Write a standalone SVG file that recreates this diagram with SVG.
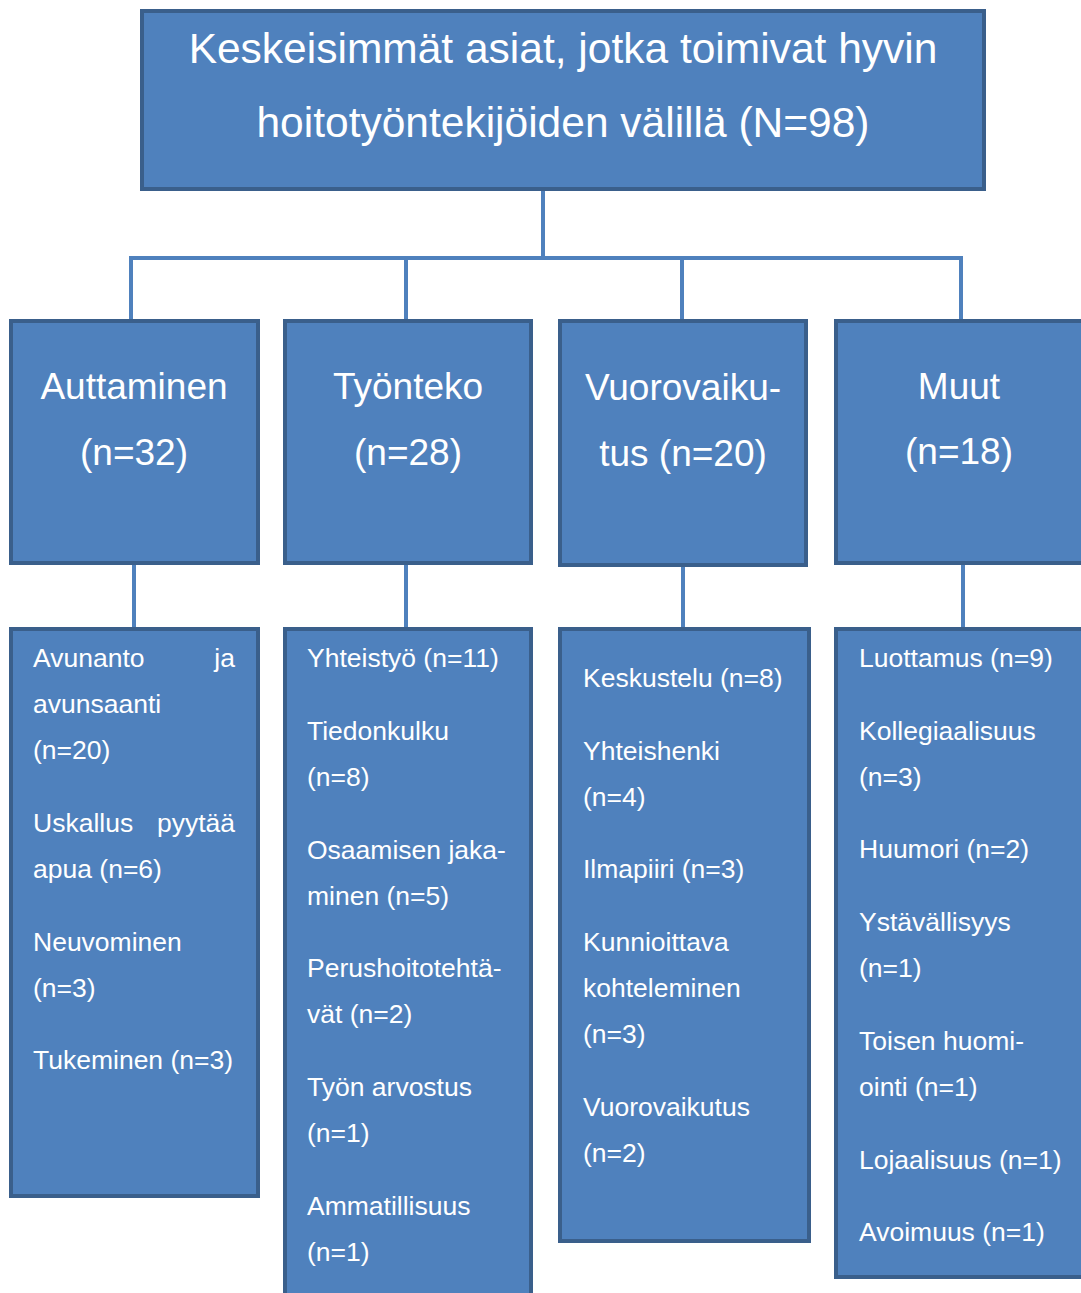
<svg xmlns="http://www.w3.org/2000/svg" width="1081" height="1293" viewBox="0 0 1081 1293">
<style>
.box{fill:#4f81bd;stroke:#3a5f8b;stroke-width:4}
.con{stroke:#4f81bd;stroke-width:4;fill:none}
text{font-family:"Liberation Sans",Arial,sans-serif;fill:#ffffff}
.t1{font-size:42.5px;text-anchor:middle}
.t2{font-size:37px;text-anchor:middle}
.t3{font-size:26.5px}
.end{text-anchor:end}
</style>
<rect width="1081" height="1293" fill="#ffffff"/>
<g id="connectors">
<path class="con" d="M543,190 V258 M131,258 H963 M131,256 V320 M406,256 V320 M682,256 V320 M961,256 V320"/>
<path class="con" d="M134,564 V628 M406,564 V628 M683,566 V628 M963,564 V628"/>
</g>
<g id="root">
<rect class="box" x="142" y="11" width="842" height="178"/>
<text class="t1" x="563" y="63">Keskeisimmät asiat, jotka toimivat hyvin</text>
<text class="t1" x="563" y="137">hoitotyöntekijöiden välillä (N=98)</text>
</g>
<g id="auttaminen">
<rect class="box" x="11" y="321" width="247" height="242"/>
<text class="t2" x="134" y="399">Auttaminen</text>
<text class="t2" x="134" y="465">(n=32)</text>
</g>
<g id="tyonteko">
<rect class="box" x="285" y="321" width="246" height="242"/>
<text class="t2" x="408" y="399">Työnteko</text>
<text class="t2" x="408" y="465">(n=28)</text>
</g>
<g id="vuorovaikutus">
<rect class="box" x="560" y="321" width="246" height="244"/>
<text class="t2" x="683" y="400">Vuorovaiku-</text>
<text class="t2" x="683" y="466">tus (n=20)</text>
</g>
<g id="muut">
<rect class="box" x="836" y="321" width="250" height="242"/>
<text class="t2" x="959" y="399">Muut</text>
<text class="t2" x="959" y="464">(n=18)</text>
</g>
<g id="auttaminen-items">
<rect class="box" x="11" y="629" width="247" height="567"/>
<text class="t3" x="33" y="667">Avunanto</text>
<text class="t3 end" x="235" y="667">ja</text>
<text class="t3" x="33" y="713">avunsaanti</text>
<text class="t3" x="33" y="759">(n=20)</text>
<text class="t3" x="33" y="832">Uskallus</text>
<text class="t3 end" x="235" y="832">pyytää</text>
<text class="t3" x="33" y="878">apua (n=6)</text>
<text class="t3" x="33" y="951">Neuvominen</text>
<text class="t3" x="33" y="997">(n=3)</text>
<text class="t3" x="33" y="1069">Tukeminen (n=3)</text>
</g>
<g id="tyonteko-items">
<rect class="box" x="285" y="629" width="246" height="680"/>
<text class="t3" x="307" y="667">Yhteistyö (n=11)</text>
<text class="t3" x="307" y="740">Tiedonkulku</text>
<text class="t3" x="307" y="786">(n=8)</text>
<text class="t3" x="307" y="859">Osaamisen jaka-</text>
<text class="t3" x="307" y="905">minen (n=5)</text>
<text class="t3" x="307" y="977">Perushoitotehtä-</text>
<text class="t3" x="307" y="1023">vät (n=2)</text>
<text class="t3" x="307" y="1096">Työn arvostus</text>
<text class="t3" x="307" y="1142">(n=1)</text>
<text class="t3" x="307" y="1215">Ammatillisuus</text>
<text class="t3" x="307" y="1261">(n=1)</text>
</g>
<g id="vuorovaikutus-items">
<rect class="box" x="560" y="629" width="249" height="612"/>
<text class="t3" x="583" y="687">Keskustelu (n=8)</text>
<text class="t3" x="583" y="760">Yhteishenki</text>
<text class="t3" x="583" y="806">(n=4)</text>
<text class="t3" x="583" y="878">Ilmapiiri (n=3)</text>
<text class="t3" x="583" y="951">Kunnioittava</text>
<text class="t3" x="583" y="997">kohteleminen</text>
<text class="t3" x="583" y="1043">(n=3)</text>
<text class="t3" x="583" y="1116">Vuorovaikutus</text>
<text class="t3" x="583" y="1162">(n=2)</text>
</g>
<g id="muut-items">
<rect class="box" x="836" y="629" width="250" height="648"/>
<text class="t3" x="859" y="667">Luottamus (n=9)</text>
<text class="t3" x="859" y="740">Kollegiaalisuus</text>
<text class="t3" x="859" y="786">(n=3)</text>
<text class="t3" x="859" y="858">Huumori (n=2)</text>
<text class="t3" x="859" y="931">Ystävällisyys</text>
<text class="t3" x="859" y="977">(n=1)</text>
<text class="t3" x="859" y="1050">Toisen huomi-</text>
<text class="t3" x="859" y="1096">ointi (n=1)</text>
<text class="t3" x="859" y="1169">Lojaalisuus (n=1)</text>
<text class="t3" x="859" y="1241">Avoimuus (n=1)</text>
</g>
</svg>
